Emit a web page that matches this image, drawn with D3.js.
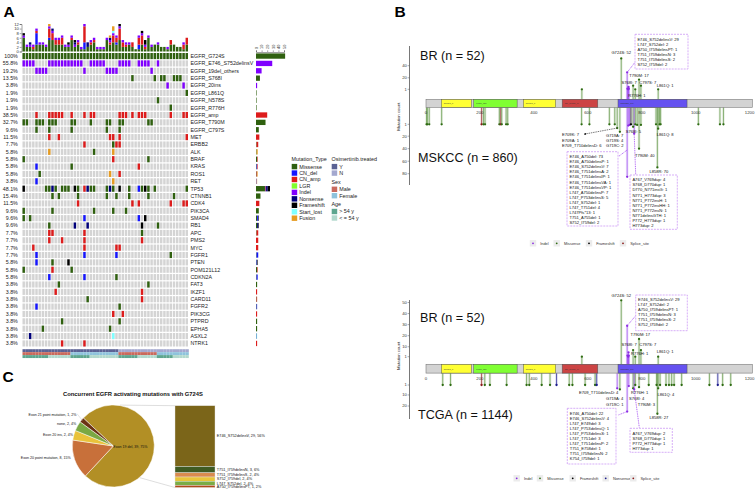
<!DOCTYPE html>
<html><head><meta charset="utf-8">
<script src="https://cdn.jsdelivr.net/npm/d3@7"></script>
<style>body{margin:0;background:#fff}svg{display:block}</style>
</head><body>
<svg id="c" width="756" height="492"></svg>
<script>
// ================= DATA =================
// ---- Panel A: oncoprint ----
const nSamples = 52;
const genes = ["EGFR_G724S","EGFR_E746_S752delinsV","EGFR_19del_others","EGFR_S768I","EGFR_20ins","EGFR_L861Q","EGFR_N578S","EGFR_R776H","EGFR_amp","EGFR_T790M","EGFR_C797S","MET","ERBB2","ALK","BRAF","KRAS","ROS1","RET","TP53","CTNNB1","CDK4","PIK3CA","SMAD4","RB1","APC","PMS2","MYC","FGFR1","PTEN","POM121L12","CDKN2A","FAT3","IKZF1","CARD11","FGFR2","PIK3CG","PTPRD","EPHA5","ASXL2","NTRK1"];
// sample columns altered per gene ("col" or "from-to" followed by type code)
const alterations = [
 "0-51M",
 "0-3I 8-18I 21-25I 30-33I 36-39I 42I",
 "4-7I 19I 26-29I 40I",
 "34M 41M 43-44M 47-49M",
 "45I 50I",
 "51M",
 "42M",
 "46M",
 "4A 8-12A 15A 19A 21-22A 30-32A 34A 36-38A 46A 50-51A",
 "0-1M 4-6M 8-10M 15-16M 21M 26-27M 30-31M 39-40M",
 "4M 8M 15M 26M 30M",
 "8A 11A 27-28A 30A 51A",
 "19A 28M 29-30A",
 "8U 22M 28U",
 "0M 28A 39M",
 "4D 15M 36A",
 "5M 27U 30A",
 "4D 28U",
 "0F 7-8M 9N 10M 12-14M 16F 17M 19A 20N 21-22M 26M 27N 28M 30F 33M 36D 37M 38F 39M 41M 51M",
 "9M 11M 17M 26M 29M 33M 39M 47M",
 "17A 34A 36A 46A 50-51A",
 "0M 9M 22M 28M 32M",
 "0M 2M 19D 36D 38F",
 "8M 16N 20N 37F 42M",
 "8-9A 19A 37M",
 "8A 12A 19A 37A",
 "3A 19A 29A 30A",
 "4D 19D 29D 46M",
 "4D 9M 14F",
 "0M 9A 15M",
 "8D 19D 29M",
 "11M 39M",
 "10A 37A",
 "20M 37A",
 "4D 30M",
 "28A 31A",
 "12M 30M",
 "6M 27M",
 "2N 28S",
 "12A 19A"
];
const typeCodes = ["M","D","A","L","I","N","F","S","U"];
const typeNames = ["Missense","CN_del","CN_amp","LGR","Indel","Nonsense","Frameshift","Start_lost","Fusion"];
const typeColors = ["#2f600f","#1515ff","#dd1c1c","#80ff2e","#8000ff","#00007a","#000000","#80ffff","#e69c22"];
const osimertinib = "0-29Y 30-51N";
const sexTrack = "0-14M 15-29F 30-41M 42-51F";
const ageTrack = "0-7O 8-14Y 15-20O 21-29Y 30-35O 36-41Y 42-46O 47-51Y";
const topTicks = [0,2,4,6,8,10,12];
const sideTicks = [0,10,20,30,40,50];

// ---- Panel B: lollipops ----
const protLen = 1210;
const pfamNames = ["Recep_L","Furin_like","Recep_L","GF_recep_IV","Pkinase_Tyr"];
const pfamStart = [57,177,361,505,712];
const pfamEnd = [168,338,481,637,968];
const pfamColors = ["#ffff33","#80ff33","#ffff33","#cc4444","#6552f0"];
const xTicksB = [0,200,400,600,800,1000,1200];

const brIndelLines = ["E746_S752delinsV: 29","L747_S752del: 2","A750_I759delinsPT: 1","T751_I759delinsN: 3","T751_I759delinsS: 2","S752_I759del: 2"];
const mskEx19Lines = ["E746_A750del: 73","E746_A750delinsP: 1","E746_S752delinsV: 7","E746_T751delinsA: 2","E746_T751delinsIP: 1","E746_T751delinsVA: 1","E746_T751delinsVP: 1","L747_A750delinsP: 7","L747_P753delinsS: 5","L747_S752del: 1","L747_T751del: 4","L747Pfs*13: 1","T751_A755del: 1","S752_I759del: 2"];
const mskEx20Lines = ["A767_V769dup: 4","S768_D770dup: 1","D770_N771insG: 1","N771_H773dup: 3","N771_P772insH: 1","N771_P772insHH: 1","N771_P772insN: 1","N771delinsGTH: 1","P772_H773dup: 1","H773dup: 2"];
const tcgaEx19Lines = ["E746_A750del: 22","E746_S752delinsV: 4","L747_E749del: 3","L747_P753delinsQ: 1","L747_P753delinsS: 1","L747_T751del: 3","L747_T751delinsP: 2","T751_E758del: 1","T751_I759delinsN: 2","K754_I759del: 1"];
const tcgaEx20Lines = ["A767_V769dup: 2","S768_D770dup: 1","P772_H773dup: 1","H773dup: 1"];

const brMuts = [
 {pos:578,n:1,type:"Missense"},
 {pos:724,n:52,type:"Missense",label:["G724S: 52"]},
 {pos:746,n:29,type:"Indel",box:brIndelLines},
 {pos:747,n:2,type:"Indel"},{pos:750,n:1,type:"Indel"},{pos:751,n:5,type:"Indel"},{pos:752,n:2,type:"Indel"},
 {pos:768,n:7,type:"Missense",label:["S768I: 7"]},
 {pos:776,n:1,type:"Missense",label:["R776H: 1"]},
 {pos:790,n:17,type:"Missense",label:["T790M: 17"]},
 {pos:797,n:7,type:"Missense",label:["C797S: 7"]},
 {pos:861,n:1,type:"Missense",label:["L861Q: 1"]}
];
const mskccMuts = [
 {pos:2,n:1,type:"Missense"},{pos:5,n:1,type:"Missense"},{pos:12,n:1,type:"Missense"},{pos:58,n:1,type:"Missense"},
 {pos:206,n:1,type:"Splice_site"},{pos:213,n:1,type:"Missense"},{pos:219,n:1,type:"Missense"},
 {pos:272,n:1,type:"Missense"},{pos:277,n:1,type:"Splice_site"},{pos:281,n:1,type:"Missense"},
 {pos:297,n:1,type:"Missense"},{pos:303,n:1,type:"Missense"},{pos:577,n:1,type:"Missense"},{pos:606,n:1,type:"Missense"},
 {pos:680,n:1,type:"Missense"},{pos:700,n:1,type:"Missense"},
 {pos:709,n:7,type:"Missense",label:["E709K: 7","E709A: 1","E709_T710delinsD: 6"]},
 {pos:719,n:13,type:"Missense",label:["G719A: 7","G719S: 4","G719C: 2"]},
 {pos:746,n:85,type:"Indel",box:mskEx19Lines},
 {pos:750,n:3,type:"Indel"},{pos:755,n:2,type:"Indel"},{pos:760,n:1,type:"Frameshift"},
 {pos:768,n:5,type:"Missense",label:["S768I: 5"]},
 {pos:772,n:16,type:"Indel",box:mskEx20Lines},
 {pos:776,n:1,type:"Missense"},{pos:783,n:2,type:"Missense"},
 {pos:790,n:40,type:"Missense",label:["T790M: 40"]},
 {pos:797,n:2,type:"Missense"},{pos:853,n:1,type:"Missense"},
 {pos:858,n:70,type:"Missense",label:["L858R: 70"]},
 {pos:861,n:8,type:"Missense",label:["L861Q: 8"]},
 {pos:866,n:1,type:"Missense"},{pos:870,n:1,type:"Missense"},
 {pos:1010,n:1,type:"Missense"},{pos:1090,n:1,type:"Missense"},{pos:1103,n:1,type:"Missense"}
];
const tcgaMuts = [
 {pos:62,n:1,type:"Missense"},{pos:91,n:1,type:"Missense"},{pos:206,n:1,type:"Splice_site"},{pos:218,n:1,type:"Missense"},
 {pos:237,n:1,type:"Missense"},{pos:299,n:1,type:"Missense"},{pos:373,n:1,type:"Missense"},{pos:383,n:1,type:"Missense"},
 {pos:429,n:1,type:"Missense"},{pos:460,n:1,type:"Missense"},{pos:484,n:1,type:"Nonsense"},{pos:531,n:1,type:"Missense"},
 {pos:543,n:1,type:"Missense"},{pos:590,n:1,type:"Missense"},{pos:627,n:1,type:"Missense"},{pos:633,n:1,type:"Nonsense"},
 {pos:709,n:4,type:"Indel",label:["E709_T710delinsD: 4"]},
 {pos:719,n:5,type:"Missense",label:["G719A: 4","G719C: 1"]},
 {pos:746,n:25,type:"Indel",box:tcgaEx19Lines},
 {pos:752,n:2,type:"Indel"},
 {pos:768,n:4,type:"Missense",label:["S768I: 4"]},
 {pos:772,n:5,type:"Indel",box:tcgaEx20Lines},
 {pos:776,n:1,type:"Missense",label:["R776H: 1"]},
 {pos:790,n:3,type:"Missense",label:["T790M: 3"]},
 {pos:826,n:1,type:"Missense"},{pos:855,n:1,type:"Missense"},
 {pos:858,n:27,type:"Missense",label:["L858R: 27"]},
 {pos:861,n:4,type:"Missense",label:["L861Q: 4"]},
 {pos:868,n:1,type:"Missense"},{pos:890,n:1,type:"Missense"},{pos:901,n:1,type:"Missense"},{pos:911,n:1,type:"Missense"},
 {pos:920,n:1,type:"Missense"},{pos:948,n:1,type:"Missense"},{pos:1051,n:1,type:"Missense"},{pos:1082,n:1,type:"Nonsense"},
 {pos:1100,n:1,type:"Missense"},{pos:1130,n:1,type:"Missense"}
];
const legendTop = ["Indel","Missense","Frameshift","Splice_site"];
const legendBottom = ["Indel","Missense","Frameshift","Nonsense","Splice_site"];

// ---- Panel C ----
const pieCategories = ["Exon 19 del","Exon 20 point mutation","Exon 20 ins","none","Exon 21 point mutation"];
const pieCounts = [39,8,2,2,1];
const pieColors = ["#b28f25","#c8703a","#e9c23a","#7aa843","#6b3213"];
const barCategories = ["E746_S752delinsV","T751_I759delinsN","T751_I759delinsS","S752_I759del","L747_S752del","A750_I759delinsPT"];
const barCounts = [29,3,2,2,2,1];
const barColors = ["#7b6519","#3f5b23","#d98b4e","#e8c53a","#7aad46","#b04a1a"];
const totalPatients = 52;

// ================= DRAW =================
const F = "'Liberation Sans', Arial, sans-serif";
const svg = d3.select("#c").style("font-family", F);

function parseTokens(str){
  const out=[];
  str.split(/\s+/).filter(Boolean).forEach(tok=>{
    const m = tok.match(/^(\d+)(?:-(\d+))?([A-Z])$/);
    const a=+m[1], b=m[2]!==undefined?+m[2]:a;
    for(let c=a;c<=b;c++) out.push({col:c, code:m[3]});
  });
  return out;
}
const colorOf = Object.fromEntries(typeCodes.map((k,i)=>[k,typeColors[i]]));

// ---------- Panel A ----------
const A = svg.append("g");
const cols = d3.range(nSamples);
const colX = d3.scaleBand().domain(cols).range([22.5,188]).paddingInner(0.24);
const rowY = d3.scaleBand().domain(genes).range([53,346.5]).paddingInner(0.17);

const cells = [];
genes.forEach((g,i)=> parseTokens(alterations[i]).forEach(d=>cells.push({gene:g,col:d.col,code:d.code})));

A.append("g").selectAll("rect").data(d3.cross(genes, cols)).join("rect")
  .attr("x",d=>colX(d[1])).attr("y",d=>rowY(d[0])).attr("width",colX.bandwidth()).attr("height",rowY.bandwidth())
  .attr("fill","#d4d4d4");
A.append("g").selectAll("rect").data(cells).join("rect")
  .attr("x",d=>colX(d.col)).attr("y",d=>rowY(d.gene)).attr("width",colX.bandwidth()).attr("height",rowY.bandwidth())
  .attr("fill",d=>colorOf[d.code]);

// percent & gene labels
const geneCount = genes.map(g=> new Set(cells.filter(c=>c.gene===g).map(c=>c.col)).size);
A.append("g").selectAll("text").data(genes).join("text")
  .attr("x",17.8).attr("y",g=>rowY(g)+rowY.bandwidth()/2+1.9).attr("text-anchor","end")
  .attr("font-size",5.3).attr("fill","#222")
  .text((g,i)=>{const p=geneCount[i]/nSamples*100; return (p===100?"100":p.toFixed(1))+"%";});
A.append("g").selectAll("text").data(genes).join("text")
  .attr("x",190.5).attr("y",g=>rowY(g)+rowY.bandwidth()/2+1.9)
  .attr("font-size",5.3).attr("fill","#222").text(g=>g);

// top stacked bars
const colCounts = cols.map(c=>{const o={col:c}; typeCodes.forEach(k=>o[k]=0); return o;});
cells.forEach(d=>colCounts[d.col][d.code]++);
const yTop = d3.scaleLinear().domain([0,12]).range([51.5,24]);
const colStack = d3.stack().keys(typeCodes)(colCounts);
A.append("g").selectAll("g").data(colStack).join("g").attr("fill",s=>colorOf[s.key])
  .selectAll("rect").data(s=>s).join("rect")
  .attr("x",d=>colX(d.data.col)).attr("width",colX.bandwidth())
  .attr("y",d=>yTop(d[1])).attr("height",d=>yTop(d[0])-yTop(d[1]));
const axT = A.append("g").attr("transform","translate(21.5,0)")
  .call(d3.axisLeft(yTop).tickValues(topTicks).tickSize(1.8).tickPadding(0.8));
axT.select(".domain").attr("stroke","#444").attr("stroke-width",0.5);
axT.selectAll(".tick line").attr("stroke","#444").attr("stroke-width",0.5);
axT.selectAll("text").attr("font-size",4.2).attr("font-family",F).attr("fill","#333");

// side stacked bars
const geneTypeCounts = genes.map(g=>{const o={gene:g}; typeCodes.forEach(k=>o[k]=0); return o;});
cells.forEach(d=>geneTypeCounts[genes.indexOf(d.gene)][d.code]++);
const xSide = d3.scaleLinear().domain([0,50]).range([256,284]);
const sideStack = d3.stack().keys(typeCodes)(geneTypeCounts);
A.append("g").selectAll("g").data(sideStack).join("g").attr("fill",s=>colorOf[s.key])
  .selectAll("rect").data(s=>s).join("rect")
  .attr("y",d=>rowY(d.data.gene)+0.4).attr("height",rowY.bandwidth()-0.8)
  .attr("x",d=>xSide(d[0])).attr("width",d=>xSide(d[1])-xSide(d[0]));
const axS = A.append("g").attr("transform","translate(0,52)")
  .call(d3.axisTop(xSide).tickValues(sideTicks).tickSize(1.6).tickPadding(1));
axS.select(".domain").attr("stroke","#444").attr("stroke-width",0.5);
axS.selectAll(".tick line").attr("stroke","#444").attr("stroke-width",0.5);
axS.selectAll("text").attr("font-size",3.8).attr("font-family",F).attr("fill","#333")
  .attr("text-anchor","start").attr("transform","rotate(-90) translate(0.5,0)").attr("dy","0.35em").attr("x",2.6).attr("y",0);

// annotation tracks
const annoTracks = [
  {tok:osimertinib, colors:{Y:"#5b6294",N:"#a4a8cf"}},
  {tok:sexTrack, colors:{M:"#c96a5d",F:"#8ec3dc"}},
  {tok:ageTrack, colors:{O:"#5ea68f",Y:"#b2d9cd"}}
];
annoTracks.forEach((t,i)=>{
  A.append("g").selectAll("rect").data(parseTokens(t.tok)).join("rect")
    .attr("x",d=>colX(d.col)).attr("width",colX.step()+0.05)
    .attr("y",349.2+i*2.95).attr("height",2.95).attr("fill",d=>t.colors[d.code]);
});

// legends A
const legA = A.append("g").attr("font-size",5.4).attr("fill","#222");
legA.append("text").attr("x",291.5).attr("y",161).text("Mutation_Type");
typeNames.forEach((n,i)=>{
  const yc = 166.6 + i*6.45;
  legA.append("rect").attr("x",291.7).attr("y",yc-2.7).attr("width",5.5).attr("height",5.4).attr("fill",typeColors[i]);
  legA.append("text").attr("x",299.2).attr("y",yc+1.9).text(n);
});
const leg2 = [
  {title:"Osimertinib.treated", ty:161, items:[["Y","#5b6294",166.6],["N","#a4a8cf",173.1]]},
  {title:"Sex", ty:183.6, items:[["Male","#c96a5d",189.3],["Female","#8ec3dc",195.7]]},
  {title:"Age", ty:205.9, items:[["> 54 y","#5ea68f",211.5],["< = 54 y","#b2d9cd",218]]}
];
leg2.forEach(L=>{
  legA.append("text").attr("x",331.5).attr("y",L.ty).text(L.title);
  L.items.forEach(it=>{
    legA.append("rect").attr("x",331.7).attr("y",it[2]-2.7).attr("width",5.5).attr("height",5.4).attr("fill",it[1]);
    legA.append("text").attr("x",339.2).attr("y",it[2]+1.9).text(it[0]);
  });
});

// panel letters
svg.append("text").attr("x",3.5).attr("y",16.5).attr("font-size",15.5).attr("font-weight","bold").text("A");
svg.append("text").attr("x",394.5).attr("y",17).attr("font-size",15.5).attr("font-weight","bold").text("B");
svg.append("text").attr("x",2.5).attr("y",382).attr("font-size",15.5).attr("font-weight","bold").text("C");

// ---------- Panel B ----------
const xProt = d3.scaleLinear().domain([0,1200]).range([426,749.6]);
const dotCol = {Missense:"#2e6b12", Indel:"#8a2be2", Frameshift:"#000000", Nonsense:"#1c1c8c", Splice_site:"#8b1a1a"};
const stemCol = {Missense:"#6f9f55", Indel:"#a259f0", Frameshift:"#333333", Nonsense:"#3a3aa0", Splice_site:"#a04040"};

svg.append("defs").append("marker").attr("id","arr").attr("viewBox","0 0 10 10").attr("refX",9).attr("refY",5)
  .attr("markerWidth",4).attr("markerHeight",4).attr("orient","auto")
  .append("path").attr("d","M0,0L10,5L0,10z").attr("fill","#222");

function drawTrack(g, muts, yS, baseY, layout){
  const tg = g.append("g");
  tg.selectAll("line.h").data(muts).join("line").attr("class","h")
    .attr("x1",d=>xProt(d.pos)).attr("x2",d=>xProt(d.pos)).attr("y1",baseY).attr("y2",d=>yS(d.n))
    .attr("stroke",d=>stemCol[d.type]).attr("stroke-width",2.6).attr("opacity",0.16);
  tg.selectAll("line.s").data(muts).join("line").attr("class","s")
    .attr("x1",d=>xProt(d.pos)).attr("x2",d=>xProt(d.pos)).attr("y1",baseY).attr("y2",d=>yS(d.n))
    .attr("stroke",d=>stemCol[d.type]).attr("stroke-width",0.8);
  tg.selectAll("circle").data(muts).join("circle")
    .attr("cx",d=>xProt(d.pos)).attr("cy",d=>yS(d.n)).attr("r",1.15).attr("fill",d=>dotCol[d.type]);
  muts.filter(d=>d.label||d.box).forEach(d=>{
    const x0 = xProt(d.pos), y0 = yS(d.n);
    if(d.box){
      const L = layout[d.box[0]];
      const fy = L.fromY!==undefined ? L.fromY : y0;
      tg.append("line").attr("x1",x0).attr("y1",fy).attr("x2",L.to[0]).attr("y2",L.to[1])
        .attr("stroke","#9b3cf0").attr("stroke-width",0.8).attr("stroke-dasharray","1,0.8");
      tg.append("rect").attr("x",L.box[0]).attr("y",L.box[1]).attr("width",L.box[2]).attr("height",L.box[3])
        .attr("fill","#fff").attr("stroke","#c58cf5").attr("stroke-width",0.7).attr("stroke-dasharray","2,1");
      tg.append("g").selectAll("text").data(d.box).join("text")
        .attr("x",L.box[0]+2.4).attr("y",(t,i)=>L.box[1]+6.3+i*L.sp).attr("font-size",4.1).attr("fill","#111").text(t=>t);
    } else {
      const L = layout[d.label[0]];
      if(L.arrow){
        tg.append("line").attr("x1",x0).attr("y1",y0).attr("x2",L.arrow[0]).attr("y2",L.arrow[1])
          .attr("stroke","#222").attr("stroke-width",0.6).attr("stroke-dasharray","1.5,0.8").attr("marker-end","url(#arr)");
      }
      tg.append("g").selectAll("text").data(d.label).join("text")
        .attr("x",x0+L.dx).attr("y",(t,i)=>y0+L.dy+i*5.25).attr("text-anchor",L.anchor)
        .attr("font-size",4.1).attr("fill","#111").text(t=>t);
    }
  });
}

function drawProteinPanel(cfg){
  const g = svg.append("g");
  g.append("line").attr("x1",409.5).attr("x2",409.5).attr("y1",cfg.axisTop).attr("y2",cfg.axisBottom)
    .attr("stroke","#555").attr("stroke-width",0.8);
  const tickG = g.append("g").attr("font-size",4.1).attr("fill","#333");
  [[cfg.upTicks,cfg.up],[cfg.dnTicks,cfg.dn]].forEach(([ticks,sc])=>{
    ticks.forEach(v=>{
      tickG.append("line").attr("x1",407.6).attr("x2",409.5).attr("y1",sc(v)).attr("y2",sc(v)).attr("stroke","#555").attr("stroke-width",0.5);
      tickG.append("text").attr("x",406.8).attr("y",sc(v)+1.4).attr("text-anchor","end").text(v);
    });
  });
  g.append("text").attr("transform",`translate(399.6,${cfg.labelY}) rotate(-90)`).attr("text-anchor","middle")
    .attr("font-size",4.3).attr("fill","#222").text("Mutation count");
  drawTrack(g, cfg.upperMuts, cfg.up, cfg.barTop, cfg.upperLayout);
  drawTrack(g, cfg.lowerMuts, cfg.dn, cfg.barTop+cfg.barH, cfg.lowerLayout);
  // protein
  g.append("rect").attr("x",xProt(0)).attr("y",cfg.barTop).attr("width",xProt(protLen)-xProt(0)).attr("height",cfg.barH)
    .attr("fill","#d3d3d3").attr("stroke","#7a7a7a").attr("stroke-width",0.6);
  pfamNames.forEach((n,i)=>{
    g.append("rect").attr("x",xProt(pfamStart[i])).attr("y",cfg.barTop).attr("width",xProt(pfamEnd[i])-xProt(pfamStart[i]))
      .attr("height",cfg.barH).attr("fill",pfamColors[i]).attr("stroke","#555").attr("stroke-width",0.5);
    g.append("text").attr("x",xProt(pfamStart[i])+2.5).attr("y",cfg.barTop+cfg.barH/2+0.8).attr("font-size",2.4).attr("fill","#333").text(n);
  });
  xTicksB.forEach(v=>{
    g.append("text").attr("x",xProt(v)).attr("y",cfg.barTop+cfg.barH+6.9).attr("text-anchor","middle")
      .attr("font-size",4.3).attr("fill","#333").text(v);
  });
  g.append("text").attr("x",420).attr("y",cfg.upNameY).attr("font-size",12.6).attr("fill","#111").text(cfg.upName);
  g.append("text").attr("x",418).attr("y",cfg.dnNameY).attr("font-size",12.6).attr("fill","#111").text(cfg.dnName);
  // legend
  const lg = g.append("g").attr("font-size",3.9).attr("fill","#333");
  cfg.legend.forEach((t,i)=>{
    const x = cfg.legendX[i];
    lg.append("rect").attr("x",x-3.2).attr("y",cfg.legendY-3.2).attr("width",6.4).attr("height",6.4).attr("fill","#ececec");
    lg.append("circle").attr("cx",x).attr("cy",cfg.legendY).attr("r",0.9).attr("fill",dotCol[t]);
    lg.append("text").attr("x",x+7.2).attr("y",cfg.legendY+1.4).text(t);
  });
}

const layBR1 = {
 "G724S: 52":{dx:0,dy:-4,anchor:"middle"},
 "S768I: 7":{dx:3.6,dy:-2,anchor:"end"},
 "C797S: 7":{dx:-1.6,dy:-2,anchor:"start"},
 "T790M: 17":{dx:0,dy:-2.8,anchor:"middle"},
 "L861Q: 1":{dx:-1.4,dy:-2,anchor:"start"},
 "R776H: 1":{dx:-7,dy:8,anchor:"start"},
 "E746_S752delinsV: 29":{box:[635,34.3,53,34.7],to:[635,62.3],sp:5}
};
const layMSK = {
 "E709K: 7":{dx:-55.1,dy:8.2,anchor:"start",arrow:[584,134.2]},
 "G719A: 7":{dx:-13.8,dy:4.9,anchor:"start"},
 "S768I: 5":{dx:-7.4,dy:6.5,anchor:"start"},
 "T790M: 40":{dx:-4,dy:8.3,anchor:"start"},
 "L858R: 70":{dx:1.5,dy:5.3,anchor:"middle"},
 "L861Q: 8":{dx:-1.4,dy:6.9,anchor:"start"},
 "E746_A750del: 73":{box:[567,151.7,51,74.3],fromY:150,to:[618.5,156.5],sp:5.1},
 "A767_V769dup: 4":{box:[630,175,47.3,54.3],to:[635.7,174.6],sp:5.07}
};
const layBR2 = {
 "G724S: 52":{dx:0,dy:-3,anchor:"middle"},
 "S768I: 7":{dx:3.6,dy:-4.5,anchor:"end"},
 "C797S: 7":{dx:-1.6,dy:-4.5,anchor:"start"},
 "T790M: 17":{dx:1.3,dy:-2.7,anchor:"middle"},
 "L861Q: 1":{dx:-1.4,dy:-3.7,anchor:"start"},
 "R776H: 1":{dx:-4.2,dy:-2.1,anchor:"start"},
 "E746_S752delinsV: 29":{box:[635.7,295,51.6,35.7],to:[635.7,315.7],sp:5}
};
const layTCGA = {
 "E709_T710delinsD: 4":{dx:1.2,dy:5.3,anchor:"end"},
 "G719A: 4":{dx:-13.8,dy:10.9,anchor:"start"},
 "S768I: 4":{dx:-4.1,dy:12,anchor:"start"},
 "R776H: 1":{dx:-4.2,dy:8.6,anchor:"start"},
 "T790M: 3":{dx:-1.3,dy:18.4,anchor:"start"},
 "L861Q: 4":{dx:-0.8,dy:7.3,anchor:"start"},
 "L858R: 27":{dx:1.5,dy:5.3,anchor:"middle"},
 "E746_A750del: 22":{box:[567.3,408.3,48.7,55.7],to:[618.3,415],sp:5},
 "A767_V769dup: 2":{box:[630,428.3,42.3,24],to:[639.3,427.5],sp:5}
};

drawProteinPanel({
  barTop:99.3, barH:8,
  up:d3.scaleLinear().domain([1,40]).range([89.3,65.7]),
  dn:d3.scaleLinear().domain([1,80]).range([124.3,173.7]),
  upTicks:[1,20,40], dnTicks:[1,20,40,60,80],
  axisTop:46, axisBottom:185, labelY:116.7,
  upperMuts:brMuts, lowerMuts:mskccMuts, upperLayout:layBR1, lowerLayout:layMSK,
  upName:"BR (n = 52)", upNameY:59.5, dnName:"MSKCC (n = 860)", dnNameY:161.6,
  legend:legendTop, legendX:[533,556.7,589,623], legendY:243.3
});
drawProteinPanel({
  barTop:364.3, barH:8.8,
  up:d3.scaleLinear().domain([1,50]).range([356.7,302.5]),
  dn:d3.scaleLinear().domain([1,20]).range([385,406]),
  upTicks:[1,10,20,30,40,50], dnTicks:[1,10,20],
  axisTop:300, axisBottom:419, labelY:355.8,
  upperMuts:brMuts, lowerMuts:tcgaMuts, upperLayout:layBR2, lowerLayout:layTCGA,
  upName:"BR (n = 52)", upNameY:321.8, dnName:"TCGA (n = 1144)", dnNameY:418.5,
  legend:legendBottom, legendX:[516.7,540,572.7,605.7,633.3], legendY:478.3
});

// ---------- Panel C ----------
const C = svg.append("g");
C.append("text").attr("x",133).attr("y",395.5).attr("text-anchor","middle").attr("font-size",5.8)
  .attr("font-weight","bold").attr("fill","#111").text("Concurrent EGFR activating mutations with G724S");
const pcx = 113.3, pcy = 446, pr = 41;
const startA = -47*Math.PI/180;
const pieArcs = d3.pie().sort(null).startAngle(startA).endAngle(startA+2*Math.PI)(pieCounts);
const arcGen = d3.arc().innerRadius(0).outerRadius(pr);
// connector lines to bar
const yBar = d3.scaleLinear().domain([0,d3.sum(barCounts)]).range([405.7,487.5]);
C.append("line").attr("x1",120).attr("y1",405.1).attr("x2",175).attr("y2",yBar(0)).attr("stroke","#c8c8c8").attr("stroke-width",0.6);
C.append("line").attr("x1",139.5).attr("y1",477.6).attr("x2",175).attr("y2",yBar(d3.sum(barCounts))).attr("stroke","#c8c8c8").attr("stroke-width",0.6);
C.append("g").attr("transform",`translate(${pcx},${pcy})`).selectAll("path").data(pieArcs).join("path")
  .attr("d",arcGen).attr("fill",(d,i)=>pieColors[i]).attr("stroke","#fff").attr("stroke-width",0.5);
const pieNudge = [[0,0],[-1.9,-2.1],[1.1,-0.3],[0.5,-0.9],[-3.6,-3.9]];
pieArcs.forEach((a,i)=>{
  const txt = `${pieCategories[i]}, ${pieCounts[i]}, ${Math.round(pieCounts[i]/totalPatients*100)}%`;
  if(i===0){
    C.append("text").attr("x",pcx).attr("y",pcy+2).attr("font-size",3.6).attr("fill","#111").text(txt);
    return;
  }
  const mid=(a.startAngle+a.endAngle)/2;
  const ex = pcx+(pr+2)*Math.sin(mid), ey = pcy-(pr+2)*Math.cos(mid);
  const tx = ex+pieNudge[i][0], ty = ey+pieNudge[i][1];
  if(i===4){
    C.append("line").attr("x1",tx+0.5).attr("y1",ty-1).attr("x2",pcx+(pr-1)*Math.sin(mid)).attr("y2",pcy-(pr-1)*Math.cos(mid))
      .attr("stroke","#bbb").attr("stroke-width",0.4);
  }
  C.append("text").attr("x",tx).attr("y",ty+1.2).attr("text-anchor","end").attr("font-size",3.6).attr("fill","#111").text(txt);
});
// stacked bar
let acc=0;
const barSegs = barCounts.map((n,i)=>{const s={i,n,y0:acc,y1:acc+n}; acc+=n; return s;});
C.append("g").selectAll("rect").data(barSegs).join("rect")
  .attr("x",175).attr("width",40).attr("y",d=>yBar(d.y0)).attr("height",d=>yBar(d.y1)-yBar(d.y0))
  .attr("fill",d=>barColors[d.i]).attr("stroke","#e6e6e6").attr("stroke-width",0.4);
C.append("g").selectAll("text").data(barSegs).join("text")
  .attr("x",216.8).attr("y",d=>(yBar(d.y0)+yBar(d.y1))/2+1.3).attr("font-size",3.8).attr("fill","#111")
  .text(d=>`${barCategories[d.i]}, ${d.n}, ${Math.round(d.n/totalPatients*100)}%`);
</script>
</body></html>
